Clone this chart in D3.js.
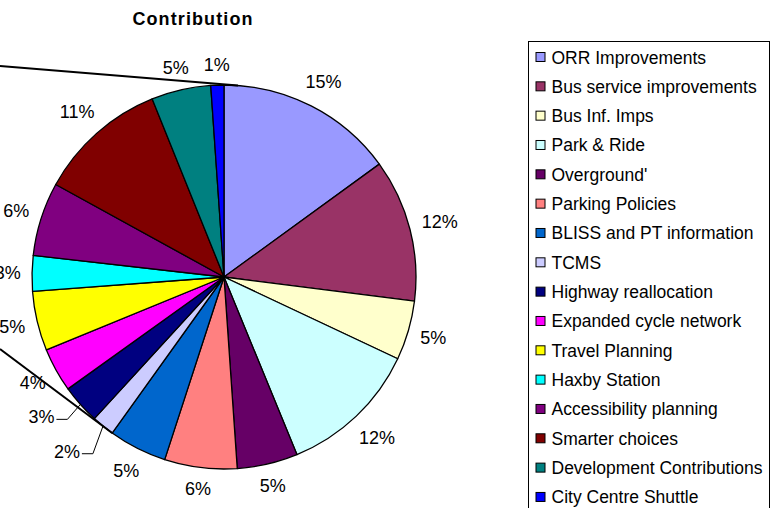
<!DOCTYPE html>
<html>
<head>
<meta charset="utf-8">
<script src="https://cdn.jsdelivr.net/npm/d3@7"></script>
<style>
  body { margin: 0; background: #fff; }
  svg { display: block; font-family: "Liberation Sans", Arial, sans-serif; }
</style>
</head>
<body>
<div id="chart"></div>
<script>
const title = "Contribution";

const categories = [
  "ORR Improvements",
  "Bus service improvements",
  "Bus Inf. Imps",
  "Park & Ride",
  "Overground'",
  "Parking Policies",
  "BLISS and PT information",
  "TCMS",
  "Highway reallocation",
  "Expanded cycle network",
  "Travel Planning",
  "Haxby Station",
  "Accessibility planning",
  "Smarter choices",
  "Development Contributions",
  "City Centre Shuttle",
];

// shares in percent
const values = [15.0, 12.0, 5.0, 11.8, 5.1, 6.1, 4.9, 1.9, 3.3, 3.7, 5.0, 3.0, 6.2, 10.9, 5.0, 1.1];

const colors = [
  "#9999ff", "#993366", "#ffffcc", "#ccffff",
  "#660066", "#ff8080", "#0066cc", "#ccccff",
  "#000080", "#ff00ff", "#ffff00", "#00ffff",
  "#800080", "#800000", "#008080", "#0000ff",
];

const width = 772;
const height = 508;
const cx = 224;
const cy = 277;
const radius = 192;
const labelGap = 203;
const fontSize = 18;

const svg = d3.select("#chart")
  .append("svg")
  .attr("width", width)
  .attr("height", height);

svg.append("text")
  .attr("x", 193)
  .attr("y", 25)
  .attr("text-anchor", "middle")
  .attr("font-size", 18)
  .attr("font-weight", "bold")
  .attr("letter-spacing", 1.1)
  .text(title);

const total = d3.sum(values);
const pct = d3.format(".0%");

const pie = d3.pie().sort(null).value((d) => d);
const arcs = pie(values);
const arc = d3.arc().innerRadius(0).outerRadius(radius);

const g = svg.append("g").attr("transform", `translate(${cx},${cy})`);

// point on a circle of radius r at pie angle a (0 = 12 o'clock, clockwise)
const at = (a, r) => [r * Math.sin(a), -r * Math.cos(a)];

g.selectAll("path.slice")
  .data(arcs)
  .enter()
  .append("path")
  .attr("class", "slice")
  .attr("d", arc)
  .attr("fill", (d, i) => colors[i])
  .attr("stroke", "#000")
  .attr("stroke-width", 1.3)
  .attr("stroke-linejoin", "round");

// connector lines running off to the left (second pie cut off)
const connectors = [
  { from: [-cx, 66 - cy], a: arcs[0].startAngle + 0.073 },
  { from: [-cx, 349 - cy], a: arcs[7].startAngle },
];
g.selectAll("line.conn")
  .data(connectors)
  .enter()
  .append("line")
  .attr("class", "conn")
  .attr("x1", (d) => d.from[0])
  .attr("y1", (d) => d.from[1])
  .attr("x2", (d) => at(d.a, radius)[0])
  .attr("y2", (d) => at(d.a, radius)[1])
  .attr("stroke", "#000")
  .attr("stroke-width", 2);

// small slices get pushed out with a leader line
const leaderSlices = [7, 8];

const lbl = g.selectAll("text.lbl")
  .data(arcs)
  .enter()
  .append("text")
  .attr("class", "lbl")
  .attr("text-anchor", "middle")
  .attr("dominant-baseline", "central")
  .attr("font-size", fontSize)
  .text((d) => pct(d.value / total));

const leaders = [];
lbl.each(function (d, i) {
  const mid = (d.startAngle + d.endAngle) / 2;
  const w = this.getComputedTextLength();
  const h = fontSize;
  const s = Math.abs(Math.sin(mid)) * w / 2 + Math.abs(Math.cos(mid)) * h / 2;
  let [x, y] = at(mid, labelGap + s);
  if (leaderSlices.includes(i)) {
    [x, y] = at(mid, 216);
    x -= 21;
    y += i === 7 ? 7 : -3;
    leaders.push({ mid, x, y, w });
  }
  d3.select(this).attr("x", x).attr("y", y);
});

g.selectAll("polyline.lead")
  .data(leaders)
  .enter()
  .append("polyline")
  .attr("class", "lead")
  .attr("fill", "none")
  .attr("stroke", "#000")
  .attr("stroke-width", 1)
  .attr("points", (d) => {
    const p = at(d.mid, radius);
    return [
      [d.x + d.w / 2 + 2, d.y + 2],
      [d.x + d.w / 2 + 13, d.y + 2],
      p,
    ].map((q) => q.join(",")).join(" ");
  });

// legend
const legendX = 528.5;
const legendY = 41.5;
const rowH = 29.33;

const legend = svg.append("g");
legend.append("rect")
  .attr("x", legendX)
  .attr("y", legendY)
  .attr("width", 241)
  .attr("height", 500)
  .attr("fill", "#fff")
  .attr("stroke", "#000")
  .attr("stroke-width", 1);

const items = legend.selectAll("g.item")
  .data(categories)
  .enter()
  .append("g")
  .attr("class", "item")
  .attr("transform", (d, i) => `translate(${legendX}, ${57 + i * rowH})`);

items.append("rect")
  .attr("x", 7.5)
  .attr("y", -4.5)
  .attr("width", 9)
  .attr("height", 9)
  .attr("fill", (d, i) => colors[i])
  .attr("stroke", "#000")
  .attr("stroke-width", 1);

items.append("text")
  .attr("x", 23)
  .attr("y", 6.5)
  .attr("font-size", 17.5)
  .text((d) => d);
</script>
</body>
</html>
